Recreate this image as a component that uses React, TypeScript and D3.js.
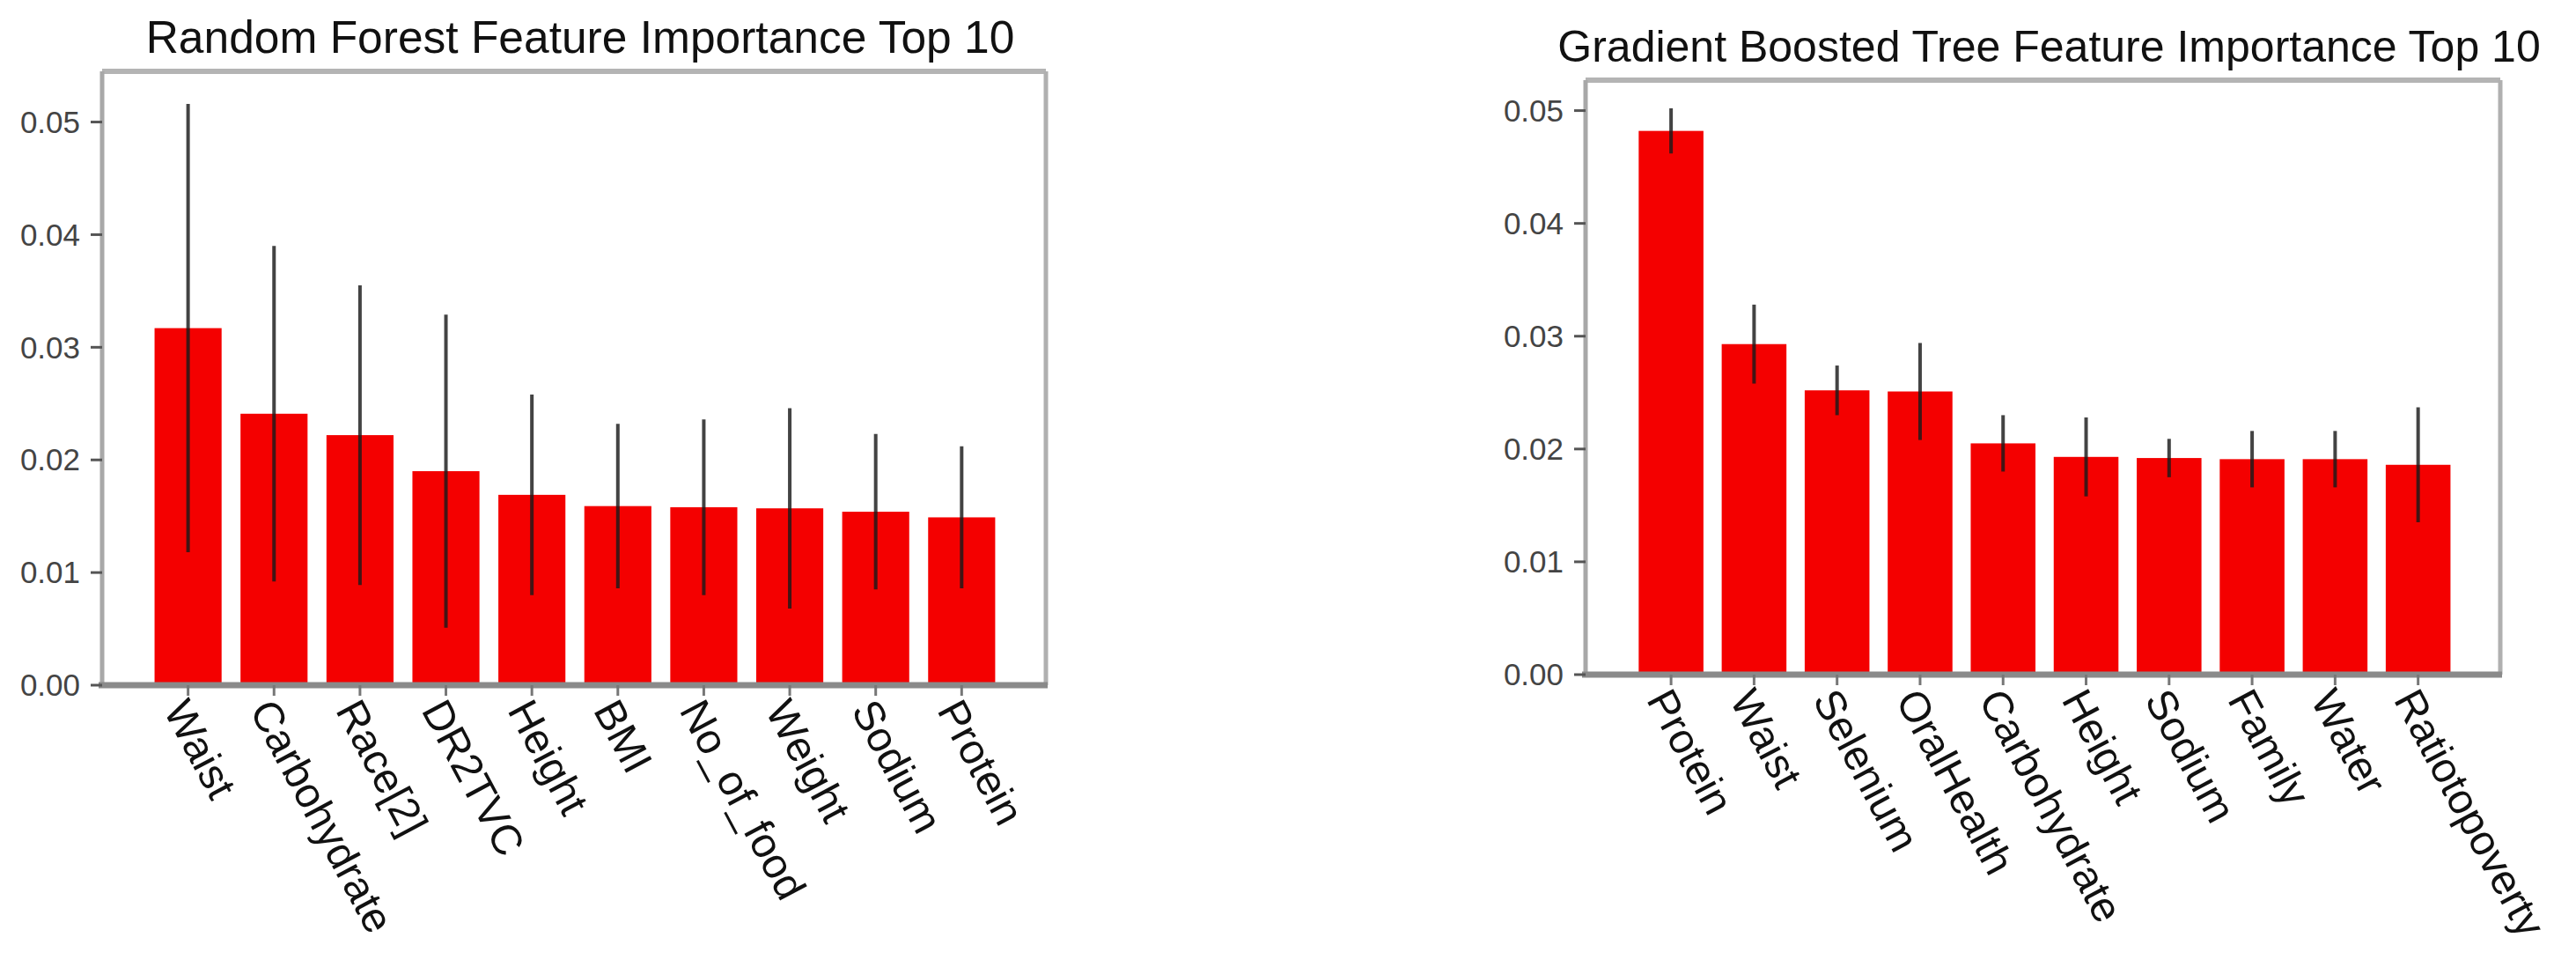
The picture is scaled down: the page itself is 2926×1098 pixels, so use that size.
import React from "react";
import * as d3 from "d3";

const rfFeatures = ["Waist", "Carbohydrate", "Race[2]", "DR2TVC", "Height", "BMI", "No_of_food", "Weight", "Sodium", "Protein"];
const rfImportance = [0.0317, 0.0241, 0.0222, 0.019, 0.0169, 0.0159, 0.0158, 0.0157, 0.0154, 0.0149];
const rfStd = [0.0199, 0.0149, 0.0133, 0.0139, 0.0089, 0.0073, 0.0078, 0.0089, 0.0069, 0.0063];

const gbFeatures = ["Protein", "Waist", "Selenium", "OralHealth", "Carbohydrate", "Height", "Sodium", "Family", "Water", "Ratiotopoverty"];
const gbImportance = [0.0482, 0.0293, 0.0252, 0.0251, 0.0205, 0.0193, 0.0192, 0.0191, 0.0191, 0.0186];
const gbStd = [0.002, 0.0035, 0.0022, 0.0043, 0.0025, 0.0035, 0.0017, 0.0025, 0.0025, 0.0051];

const yTicks = [0, 0.01, 0.02, 0.03, 0.04, 0.05];

const FONT = "'Liberation Sans', Arial, Helvetica, sans-serif";

type PanelProps = {
  title: string;
  titleSize: number;
  features: string[];
  values: number[];
  errs: number[];
  left: number;
  right: number;
  top: number;
  bottom: number;
  yMax: number;
  xDomain: [number, number];
};

function Panel(p: PanelProps) {
  const x = d3.scaleLinear().domain(p.xDomain).range([p.left, p.right]);
  const y = d3.scaleLinear().domain([0, p.yMax]).range([p.bottom, p.top]);
  const bw = x(0.39) - x(-0.39);
  const fmt = d3.format(".2f");
  const labelSize = 48;
  const angle = 62;
  return (
    <g>
      <text
        x={(p.left + p.right) / 2 + 7}
        y={p.top - 21}
        textAnchor="middle"
        fontFamily={FONT}
        fontSize={p.titleSize}
        fill="#111"
      >
        {p.title}
      </text>
      <rect x={p.left} y={p.top} width={p.right - p.left} height={p.bottom - p.top} fill="#fff" stroke="none" />
      {p.values.map((v, i) => (
        <rect
          key={"b" + i}
          x={x(i) - bw / 2}
          y={y(v)}
          width={bw}
          height={y(0) - y(v)}
          fill="#f40000"
        />
      ))}
      {p.values.map((v, i) => (
        <line
          key={"e" + i}
          x1={x(i)}
          x2={x(i)}
          y1={y(v + p.errs[i])}
          y2={y(Math.max(0, v - p.errs[i]))}
          stroke="#1a1a1a"
          strokeOpacity={0.82}
          strokeWidth={4}
        />
      ))}
      <line x1={p.left} x2={p.right} y1={p.top} y2={p.top} stroke="#b4b4b4" strokeWidth={6} />
      <line x1={p.right} x2={p.right} y1={p.top} y2={p.bottom} stroke="#b0b0b0" strokeWidth={5} />
      <line x1={p.left} x2={p.left} y1={p.top} y2={p.bottom} stroke="#a8a8a8" strokeWidth={5} />
      <line x1={p.left - 4} x2={p.right + 2} y1={p.bottom} y2={p.bottom} stroke="#8a8a8a" strokeWidth={7} />
      {yTicks.map((t) => (
        <g key={"yt" + t}>
          <line x1={p.left - 13} x2={p.left} y1={y(t)} y2={y(t)} stroke="#555" strokeWidth={3} />
          <text
            x={p.left - 25}
            y={y(t)}
            dy="0.35em"
            textAnchor="end"
            fontFamily={FONT}
            fontSize={35}
            fill="#444"
          >
            {fmt(t)}
          </text>
        </g>
      ))}
      {p.features.map((f, i) => (
        <g key={"xt" + i}>
          <line x1={x(i)} x2={x(i)} y1={p.bottom} y2={p.bottom + 12} stroke="#777" strokeWidth={3} />
          <g transform={`translate(${x(i) + 2},${p.bottom + 12}) rotate(${angle})`}>
            <text x={0} y={0} dy={labelSize * 0.72} fontFamily={FONT} fontSize={labelSize} fill="#111">
              {f}
            </text>
          </g>
        </g>
      ))}
    </g>
  );
}

export default function App() {
  return (
    <svg
      width={2926}
      height={1098}
      style={{ position: "absolute", left: 0, top: 0, background: "#fff" }}
    >
      <rect x={0} y={0} width={2926} height={1098} fill="#fff" />
      <Panel
        title="Random Forest Feature Importance Top 10"
        titleSize={51.5}
        features={rfFeatures}
        values={rfImportance}
        errs={rfStd}
        left={116}
        right={1188}
        top={81}
        bottom={778}
        yMax={0.0545}
        xDomain={[-1.0, 9.98]}
      />
      <Panel
        title="Gradient Boosted Tree Feature Importance Top 10"
        titleSize={50}
        features={gbFeatures}
        values={gbImportance}
        errs={gbStd}
        left={1801}
        right={2840}
        top={91}
        bottom={766}
        yMax={0.0527}
        xDomain={[-1.03, 9.99]}
      />
    </svg>
  );
}
